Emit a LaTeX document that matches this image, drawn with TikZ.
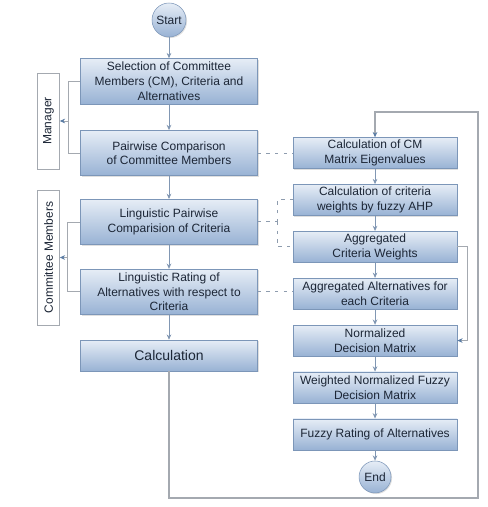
\documentclass[tikz,border=0pt]{standalone}
\usepackage{fontspec}
\setmainfont{Liberation Sans}
\usetikzlibrary{positioning, calc, arrows.meta, shadows}
\definecolor{boxtop}{HTML}{E6EDF6}
\definecolor{boxbottom}{HTML}{98B2D4}
\definecolor{boxline}{HTML}{7C96B8}
\definecolor{flowblue}{HTML}{5A7CA4}
\definecolor{flowline}{HTML}{8197B3}
\definecolor{inkdark}{HTML}{1C2636}
\definecolor{loopgray}{HTML}{A4A9B0}
\definecolor{dotgray}{HTML}{8E9CAE}

\begin{document}
\begin{tikzpicture}[x=0.75pt, y=-0.75pt, >={Stealth[length=4pt, width=3.5pt]},
    block/.style={draw=boxline, rectangle, top color=boxtop, bottom color=boxbottom, text=inkdark, align=center, inner sep=1.5pt, font=\fontsize{9}{11}\selectfont, drop shadow={shadow xshift=0.8pt, shadow yshift=-0.8pt, opacity=0.25}},
    leftblock/.style={block, minimum width=132.75pt, minimum height=34pt},
    rightblock/.style={block, minimum width=123pt, minimum height=23.25pt},
    terminal/.style={circle, draw=boxline, top color=boxtop, bottom color=boxbottom, text=inkdark, inner sep=0pt, font=\fontsize{9}{11}\selectfont, drop shadow={shadow xshift=0.8pt, shadow yshift=-0.8pt, opacity=0.25}},
    role/.style={draw=loopgray, fill=white, rotate=90, minimum height=16.5pt, inner sep=1pt, text=inkdark, font=\fontsize{9}{11}\selectfont},
    flow/.style={->, flowline, line width=0.6pt},
    link/.style={dotgray, line width=0.8pt, dash pattern=on 2.5pt off 4pt},
    bracket/.style={loopgray, line width=0.6pt},
    loopline/.style={loopgray, line width=0.9pt}]
\useasboundingbox (0,0) rectangle (488,507);

% Left column
\node[terminal, minimum size=25.5pt] (start) at (169,20) {Start};
\node[leftblock, below=15.75pt of start] (select) {Selection of Committee\\Members (CM), Criteria and\\Alternatives};
\node[leftblock, below=19.5pt of select] (pair) {Pairwise Comparison\\of Committee Members};
\node[leftblock, below=17.25pt of pair] (crit) {Linguistic Pairwise\\Comparision of Criteria};
\node[leftblock, below=18pt of crit] (rating) {Linguistic Rating of\\Alternatives with respect to\\Criteria};
\node[leftblock, minimum height=23.25pt, below=18.75pt of rating, font=\fontsize{10.5}{12}\selectfont] (calc) {Calculation};

% Right column
\node[rightblock, right=26.25pt of pair] (cm) {Calculation of CM\\Matrix Eigenvalues};
\node[rightblock, below=11.5pt of cm] (ahp) {Calculation of criteria\\weights by fuzzy AHP};
\node[rightblock, below=11.5pt of ahp] (aggw) {Aggregated\\Criteria Weights};
\node[rightblock, below=11.5pt of aggw] (aggalt) {Aggregated Alternatives for\\each Criteria};
\node[rightblock, below=11.5pt of aggalt] (norm) {Normalized\\Decision Matrix};
\node[rightblock, below=11.5pt of norm] (wnorm) {Weighted Normalized Fuzzy\\Decision Matrix};
\node[rightblock, below=11.5pt of wnorm] (fuzzy) {Fuzzy Rating of Alternatives};
\node[terminal, minimum size=24pt, below=8pt of fuzzy] (end) {End};

% Role labels (rotated: south anchor faces right)
\node[role, minimum width=72pt] (manager) at (48.5,121) {Manager};
\node[role, minimum width=101.25pt] (members) at (48.5,257.5) {Committee Members};

% Main flow
\draw[flow] (start) -- (select);
\draw[flow] (select) -- (pair);
\draw[flow] (pair) -- (crit);
\draw[flow] (crit) -- (rating);
\draw[flow] (rating) -- (calc);
\draw[flow] (cm) -- (ahp);
\draw[flow] (ahp) -- (aggw);
\draw[flow] (aggw) -- (aggalt);
\draw[flow] (aggalt) -- (norm);
\draw[flow] (norm) -- (wnorm);
\draw[flow] (wnorm) -- (fuzzy);
\draw[flow] (fuzzy) -- (end);

% Brackets to the roles
\coordinate (mgrbar) at ($(select.west)+(-9pt,0)$);
\draw[bracket] (select.west) -- (mgrbar) |- (pair.west);
\draw[bracket, -{Stealth[length=4pt, width=3.5pt, flowblue]}] (manager.south -| mgrbar) -- (manager.south);
\coordinate (cmbar) at ($(crit.west)+(-9.75pt,0)$);
\draw[bracket] (crit.west) -- (cmbar) |- (rating.west);
\draw[bracket, -{Stealth[length=4pt, width=3.5pt, flowblue]}] (members.south -| cmbar) -- (members.south);

% Dotted links between columns
\draw[link] (pair) -- (cm);
\coordinate (split) at ($(crit.east)+(14.6pt,0)$);
\draw[link] (crit.east) -- (split);
\draw[link] (split) |- (ahp.west);
\draw[link] (split) |- (aggw.west);
\draw[link] (rating.east) -- (rating.east -| aggalt.west);

% Feedback lines
\coordinate (aggbar) at ($(aggw.east)+(7.5pt,0)$);
\draw[bracket, -{Stealth[length=4pt, width=3.5pt, flowblue]}] (aggw.east) -- (aggbar) |- (norm.east);
\coordinate (loopse) at (478,498);
\coordinate (loopne) at (478,112);
\draw[loopline, -{Stealth[length=4pt, width=3.5pt, flowblue]}] (calc.south) |- (loopse) -- (loopne) -| (cm.north);
\end{tikzpicture}
\end{document}
